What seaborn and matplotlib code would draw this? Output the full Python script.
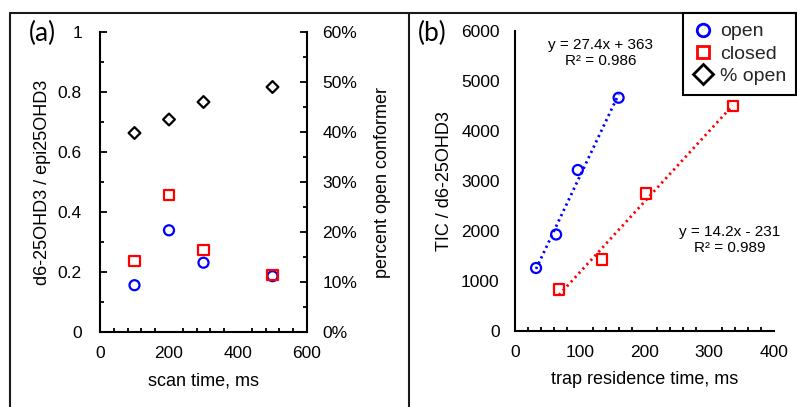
import numpy as np
import pandas as pd
import matplotlib
matplotlib.use("Agg")
import matplotlib.pyplot as plt
import seaborn as sns
from matplotlib.ticker import MultipleLocator, PercentFormatter
from matplotlib.lines import Line2D

# ---- data (a) ----
scan_time = [100, 200, 300, 500]
ratio_open = [0.156, 0.339, 0.231, 0.186]
ratio_closed = [0.237, 0.456, 0.272, 0.189]
pct_open = [0.398, 0.425, 0.460, 0.490]

# ---- data (b) ----
trap_open = [32.5, 63.5, 97, 160]
tic_open = [1260, 1930, 3220, 4665]
trap_closed = [68, 135, 202, 336]
tic_closed = [830, 1430, 2750, 4500]

eq_open = "y = 27.4x + 363\nR\u00b2 = 0.986"
eq_closed = "y = 14.2x - 231\nR\u00b2 = 0.989"
legend_labels = ["open", "closed", "% open"]

sns.set_theme(style="white")
plt.rcParams["font.family"] = ["Liberation Sans", "DejaVu Sans"]
plt.rcParams["axes.linewidth"] = 1.5

W, H = 797, 407
fig = plt.figure(figsize=(W / 100, H / 100), dpi=100)

def rect(l, r, b, t):
    return [l / W, 1 - b / H, (r - l) / W, (b - t) / H]

axA = fig.add_axes(rect(100, 307, 332, 32))
axA2 = axA.twinx()
axB = fig.add_axes(rect(515, 774, 331, 31))

ms_c = 52
lw_m = 1.6
# panel a
sns.scatterplot(x=scan_time, y=ratio_open, ax=axA, marker="o", s=ms_c,
                facecolor="none", edgecolor="#0000ff", linewidth=lw_m, zorder=3)
sns.scatterplot(x=scan_time, y=ratio_closed, ax=axA, marker="s", s=ms_c,
                facecolor="none", edgecolor="#ff0000", linewidth=lw_m, zorder=3)
sns.scatterplot(x=scan_time, y=pct_open, ax=axA2, marker="D", s=36,
                facecolor="none", edgecolor="black", linewidth=lw_m, zorder=3)

# panel b
sns.scatterplot(x=trap_open, y=tic_open, ax=axB, marker="o", s=ms_c,
                facecolor="none", edgecolor="#0000ff", linewidth=lw_m, zorder=3)
sns.scatterplot(x=trap_closed, y=tic_closed, ax=axB, marker="s", s=ms_c,
                facecolor="none", edgecolor="#ff0000", linewidth=lw_m, zorder=3)
sns.regplot(x=trap_open, y=tic_open, ax=axB, scatter=False, ci=None, truncate=True,
            color="#0000ff", line_kws=dict(ls=(0, (0.8, 1.3)), lw=2.0, zorder=4))
sns.regplot(x=trap_closed, y=tic_closed, ax=axB, scatter=False, ci=None, truncate=True,
            color="#ff0000", line_kws=dict(ls=(0, (0.8, 1.3)), lw=2.0, zorder=4))

fs = 12.5
# axes formatting a
axA.set_xlim(0, 600)
axA.set_ylim(0, 1)
axA2.set_ylim(0, 0.6)
axA.xaxis.set_major_locator(MultipleLocator(200))
axA.xaxis.set_minor_locator(MultipleLocator(40))
axA.yaxis.set_major_locator(MultipleLocator(0.2))
axA.yaxis.set_minor_locator(MultipleLocator(0.1))
axA.set_yticks([0, 0.2, 0.4, 0.6, 0.8, 1.0])
axA.set_yticklabels(["0", "0.2", "0.4", "0.6", "0.8", "1"])
axA2.yaxis.set_major_locator(MultipleLocator(0.1))
axA2.yaxis.set_minor_locator(MultipleLocator(0.05))
axA2.yaxis.set_major_formatter(PercentFormatter(1.0, decimals=0))
for s in ["top", "right"]:
    axA.spines[s].set_visible(False)
for s in ["top", "left", "bottom"]:
    axA2.spines[s].set_visible(False)
axA2.spines["right"].set_linewidth(1.5)

axB.set_xlim(0, 400)
axB.set_ylim(0, 6000)
axB.xaxis.set_major_locator(MultipleLocator(100))
axB.xaxis.set_minor_locator(MultipleLocator(20))
axB.yaxis.set_major_locator(MultipleLocator(1000))
for s in ["top", "right"]:
    axB.spines[s].set_visible(False)

for ax in (axA, axA2, axB):
    ax.set_facecolor("none")
    for s in ax.spines.values():
        s.set_color("black")
    ax.tick_params(which="both", direction="in", color="black", width=1.3,
                   labelsize=fs, labelcolor="black")
    ax.tick_params(which="major", length=5)
    ax.tick_params(which="minor", length=3)
    ax.tick_params(axis="y", pad=11)
    ax.tick_params(axis="x", pad=10)
axA.tick_params(axis="y", pad=13)
axA.tick_params(axis="x", which="minor", bottom=True)
axB.tick_params(axis="x", which="minor", bottom=True)
axA.tick_params(axis="y", which="minor", left=True)
axA2.tick_params(axis="y", which="minor", right=True)

axA.set_xlabel("scan time, ms", fontsize=13, labelpad=8, color="black")
axA.set_ylabel("d6-25OHD3 / epi25OHD3", fontsize=13, labelpad=5, color="black")
axA2.set_ylabel("percent open conformer", fontsize=13, labelpad=12, color="black")
axB.set_xlabel("trap residence time, ms", fontsize=13, labelpad=8, color="black")
axB.set_ylabel("TIC / d6-25OHD3", fontsize=13, labelpad=6, color="black")

# equations
fig.text(601 / W, 1 - 53 / H, eq_open, ha="center", va="center", fontsize=11,
         linespacing=1.15, color="black")
fig.text(730 / W, 1 - 240 / H, eq_closed, ha="center", va="center", fontsize=11,
         linespacing=1.15, color="black")

# panel labels
fig.text(42 / W, 1 - 33 / H, "(a)", ha="center", va="center", fontsize=19,
         family=["Lato", "DejaVu Sans"], color="black")
fig.text(432 / W, 1 - 33 / H, "(b)", ha="center", va="center", fontsize=19,
         family=["Lato", "DejaVu Sans"], color="black")

# frame lines
fc = "#1a1a1a"
fig.add_artist(Line2D([10 / W, 10 / W], [0, 1 - 13 / H], transform=fig.transFigure, color=fc, lw=1.5))
fig.add_artist(Line2D([10 / W, 1], [1 - 13 / H, 1 - 13 / H], transform=fig.transFigure, color=fc, lw=1.5))
fig.add_artist(Line2D([409 / W, 409 / W], [0, 1 - 13 / H], transform=fig.transFigure, color=fc, lw=1.5))

# legend
handles = [
    Line2D([], [], ls="none", marker="o", ms=9, mfc="none", mec="#0000ff", mew=2),
    Line2D([], [], ls="none", marker="s", ms=9, mfc="none", mec="#ff0000", mew=2),
    Line2D([], [], ls="none", marker="D", ms=10, mfc="none", mec="black", mew=2),
]
leg = fig.legend(handles, legend_labels, loc="upper left",
                 bbox_to_anchor=(683 / W, 1 - 13 / H), frameon=True, fancybox=False,
                 framealpha=1, edgecolor="black", fontsize=14, borderpad=0.5,
                 handletextpad=0.35, labelspacing=0.25, handlelength=1.06,
                 borderaxespad=0)
leg.get_frame().set_linewidth(1.5)

fig.savefig("out.png", dpi=100)
